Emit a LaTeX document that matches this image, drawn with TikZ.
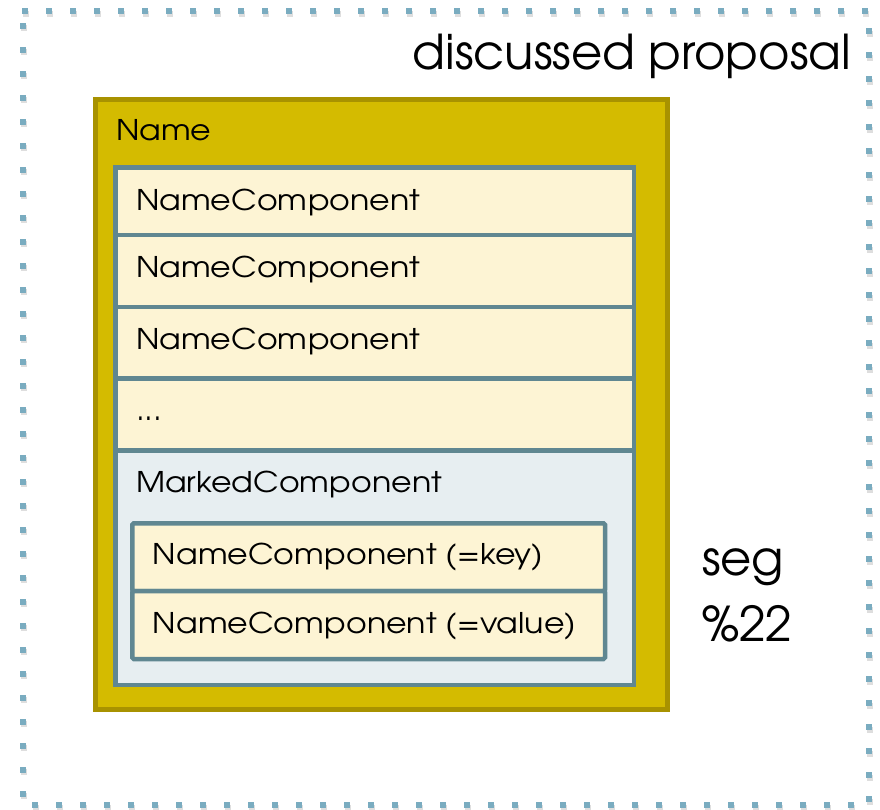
\documentclass[tikz,border=0pt]{standalone}
\usepackage{fontspec}
\setmainfont{texgyreadventor-regular.otf}
\newfontfamily\widefont[FakeStretch=1.11]{texgyreadventor-regular.otf}
\definecolor{dotblue}{RGB}{122,172,192}
\definecolor{dotshadow}{RGB}{200,200,200}
\definecolor{goldfill}{RGB}{212,187,0}
\definecolor{golddark}{RGB}{168,146,0}
\definecolor{slate}{RGB}{96,135,145}
\definecolor{cream}{RGB}{253,244,212}
\definecolor{paleblue}{RGB}{231,238,241}
\tikzset{
  dotsq/.style={fill=dotblue, minimum size=6pt, inner sep=0pt, outer sep=0pt, draw=none},
  shadsq/.style={fill=dotshadow, minimum size=6pt, inner sep=0pt, draw=none, opacity=0.6},
  goldbox/.style={draw=golddark, fill=goldfill, line width=5pt, inner sep=0pt, outer sep=0pt, anchor=north west},
  rowbox/.style={draw=slate, fill=cream, line width=4.5pt, inner sep=0pt, outer sep=0pt, anchor=north west},
  markbox/.style={draw=slate, fill=paleblue, line width=4.5pt, inner sep=0pt, outer sep=0pt, anchor=north west},
  kvbox/.style={draw=slate, fill=cream, line width=4.5pt, inner sep=0pt, outer sep=0pt, anchor=north west, rounded corners=1.5pt},
  lbl/.style={inner sep=0pt, outer sep=0pt, anchor=base west, font=\widefont\fontsize{28.5}{34}\selectfont, text=black},
  biglbl/.style={inner sep=0pt, outer sep=0pt, font=\fontsize{48}{56}\selectfont, text=black},
}
\begin{document}
\begin{tikzpicture}[x=1pt,y=-1pt]
\useasboundingbox (0,0) rectangle (880,809);
% dotted frame
\foreach \k in {0,...,35} {\node[shadsq] at (25+24*\k+0.8,11+2.5) {};}
\foreach \k in {0,...,34} {\node[shadsq] at (35+24*\k+0.8,805.3+2.5) {};}
\foreach \k in {0,...,32} {\node[shadsq] at (22.7+0.8,25.5+24*\k+2.5) {};}
\foreach \k in {0,...,32} {\node[shadsq] at (869+0.8,31.3+24*\k+2.5) {};}
\foreach \k in {0,...,35} {\node[dotsq] (t\k) at (25+24*\k,11) {};}
\foreach \k in {0,...,34} {\node[dotsq] (b\k) at (35+24*\k,805.3) {};}
\foreach \k in {0,...,32} {\node[dotsq] (l\k) at (22.7,25.5+24*\k) {};}
\foreach \k in {0,...,32} {\node[dotsq] (r\k) at (869,31.3+24*\k) {};}
% title
\node[biglbl, anchor=base east] (title) at (851,69) {discussed proposal};
% gold name box
\node[goldbox, minimum width=572.5pt, minimum height=610pt] (name) at (95,99.5) {};
\node[lbl] (namelbl) at (116,140) {Name};
% rows
\node[rowbox, minimum width=518.5pt, minimum height=67.5pt] (row1) at (115.7,167.5) {};
\node[rowbox, minimum width=518.5pt, minimum height=72pt] (row2) at (115.7,235) {};
\node[rowbox, minimum width=518.5pt, minimum height=71.7pt] (row3) at (115.7,307) {};
\node[rowbox, minimum width=518.5pt, minimum height=71.8pt] (row4) at (115.7,378.7) {};
\node[markbox, minimum width=518.5pt, minimum height=234.5pt] (marked) at (115.7,450.5) {};
\node[lbl] (r1lbl) at (136,210) {NameComponent};
\node[lbl] (r2lbl) at (136,277.5) {NameComponent};
\node[lbl] (r3lbl) at (136,349.3) {NameComponent};
\node[lbl] (r4lbl) at (136,420.7) {...};
\node[lbl] (mlbl) at (136,492.5) {MarkedComponent};
% key / value
\node[kvbox, minimum width=472.7pt, minimum height=67.7pt] (key) at (132.3,523.3) {};
\node[kvbox, minimum width=472.7pt, minimum height=68pt] (value) at (132.3,591) {};
\node[lbl] (klbl) at (152.7,564.3) {NameComponent (=key)};
\node[lbl] (vlbl) at (152.7,633.3) {NameComponent (=value)};
% seg %22
\node[biglbl, anchor=base west] (seg) at (702,575) {seg};
\node[biglbl, anchor=base west] (pct) at (702,641.7) {\%22};
\end{tikzpicture}
\end{document}
